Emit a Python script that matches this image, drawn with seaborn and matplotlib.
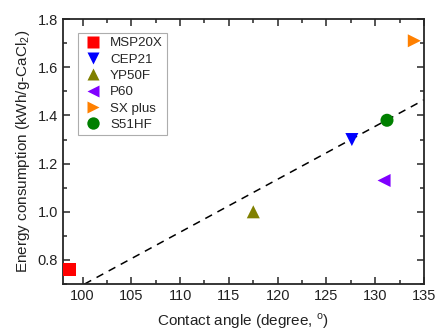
import matplotlib
matplotlib.use("Agg")
import matplotlib.pyplot as plt
from matplotlib.ticker import MultipleLocator
import seaborn as sns
import pandas as pd

# membrane data
membranes = ["MSP20X", "CEP21", "YP50F", "P60", "SX plus", "S51HF"]
contact_angle = [98.7, 127.6, 117.5, 130.9, 134.0, 131.2]
energy = [0.76, 1.30, 1.00, 1.13, 1.71, 1.38]
colors = ["#ff0000", "#0000ff", "#808000", "#8000ff", "#ff8000", "#008000"]
markers = ["s", "v", "^", "<", ">", "o"]

# dashed trend line (endpoints)
fit_x = [100.2, 135.0]
fit_y = [0.70, 1.465]

df = pd.DataFrame({"membrane": membranes, "angle": contact_angle, "energy": energy})

sns.set_style("ticks")
plt.rcParams["font.family"] = ["Liberation Sans", "DejaVu Sans"]
plt.rcParams["mathtext.fontset"] = "custom"
plt.rcParams["mathtext.rm"] = "Liberation Sans"

fig, ax = plt.subplots(figsize=(4.39, 3.35), dpi=100)
fig.subplots_adjust(left=0.1435, right=0.966, top=0.943, bottom=0.152)

ax.plot(fit_x, fit_y, ls=(0, (5, 4)), color="black", lw=1.1, zorder=1)

sns.scatterplot(data=df, x="angle", y="energy", hue="membrane", style="membrane",
                palette=dict(zip(membranes, colors)),
                markers=dict(zip(membranes, markers)),
                s=88, edgecolor="none", ax=ax, zorder=3)

ax.set_xlim(98, 135)
ax.set_ylim(0.7, 1.8)
ax.xaxis.set_major_locator(MultipleLocator(5))
ax.xaxis.set_minor_locator(MultipleLocator(2.5))
ax.yaxis.set_major_locator(MultipleLocator(0.2))
ax.yaxis.set_minor_locator(MultipleLocator(0.1))
ax.tick_params(which="both", direction="in", top=True, right=True, width=1.1,
               labelsize=10.5, labelcolor="#222222")
ax.tick_params(which="major", length=5)
ax.tick_params(which="minor", length=3)
for sp in ax.spines.values():
    sp.set_linewidth(1.3)

ax.set_xlabel("Contact angle (degree, $^{\\rm o}$)", fontsize=11, labelpad=6, color="#222222")
ax.set_ylabel("Energy consumption (kWh/g-CaCl$_2$)", fontsize=11, labelpad=4, color="#222222")

leg = ax.legend(loc="upper left", bbox_to_anchor=(0.042, 0.947), borderaxespad=0,
                fontsize=9.6, frameon=True, fancybox=False, edgecolor="#999999",
                handletextpad=0.5, labelspacing=0.3, markerscale=0.95, borderpad=0.3,
                handlelength=1.6)
leg.get_frame().set_linewidth(0.8)

plt.savefig("out.png", dpi=100)
plt.close()
